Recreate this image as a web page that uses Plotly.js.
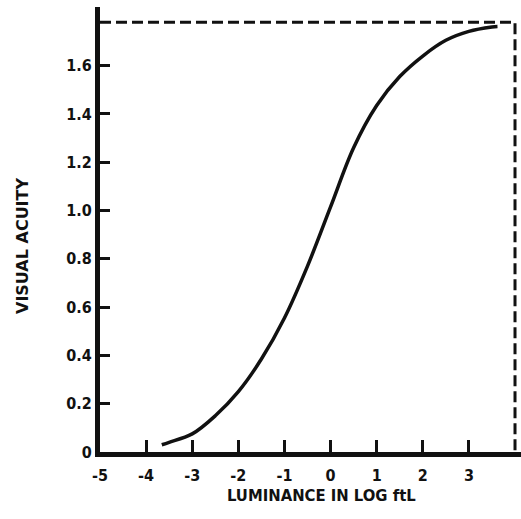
<!DOCTYPE html>
<html>
<head>
<meta charset="utf-8">
<script src="https://cdn.plot.ly/plotly-3.0.1.min.js"></script>
<style>html,body{margin:0;padding:0;background:#fff;}#chart{width:521px;height:519px;}</style>
</head>
<body>
<div id="chart"></div>
<script>
// Luminance (log ftL) and visual acuity
const luminance = [-3.66, -3.5, -3.0, -2.5, -2.0, -1.5, -1.0, -0.5, 0.0, 0.5, 1.0, 1.5, 2.0, 2.5, 3.0, 3.5, 3.62];
const acuity    = [0.03, 0.04, 0.075, 0.15, 0.25, 0.385, 0.555, 0.77, 1.015, 1.26, 1.435, 1.555, 1.64, 1.705, 1.742, 1.76, 1.762];
// Dashed asymptote boundary
const boundX = [-5, 4, 4];
const boundY = [1.78, 1.78, 0];
// Tick values and labels
const xTickVals = [-5, -4, -3, -2, -1, 0, 1, 2, 3];
const xTickText = ['-5', '-4', '-3', '-2', '-1', '0', '1', '2', '3'];
const yTickVals = [0, 0.2, 0.4, 0.6, 0.8, 1.0, 1.2, 1.4, 1.6];
const yTickText = ['0', '0.2', '0.4', '0.6', '0.8', '1.0', '1.2', '1.4', '1.6'];

const fontFam = '"DejaVu Sans Condensed", "Liberation Sans Narrow", "DejaVu Sans", sans-serif';
const wideFam = '"DejaVu Sans", "Liberation Sans", sans-serif';

const traces = [
  {x: boundX, y: boundY, mode: 'lines', line: {color: '#111', width: 3, dash: '11px,5px'}, hoverinfo: 'skip', showlegend: false, cliponaxis: false},
  {x: luminance, y: acuity, mode: 'lines', line: {color: '#111', width: 3.5, shape: 'spline', smoothing: 1}, showlegend: false}
];

const layout = {
  width: 521, height: 519,
  margin: {l: 100, r: 0, t: 7, b: 67},
  paper_bgcolor: '#fff', plot_bgcolor: '#fff',
  showlegend: false,
  xaxis: {
    range: [-5, 4.13], showgrid: false, zeroline: false,
    showline: true, linecolor: '#111', linewidth: 5,
    ticks: 'inside', ticklen: 12, tickwidth: 3, tickcolor: '#111',
    tickvals: xTickVals, ticktext: xTickText, ticklabelstandoff: 5,
    tickfont: {family: fontFam, size: 16, color: '#111', weight: 'bold'}
  },
  yaxis: {
    range: [0, 1.843], showgrid: false, zeroline: false,
    showline: true, linecolor: '#111', linewidth: 5,
    ticks: 'inside', ticklen: 10, tickwidth: 3, tickcolor: '#111',
    tickvals: yTickVals, ticktext: yTickText,
    tickfont: {family: fontFam, size: 16, color: '#111', weight: 'bold'}
  },
  annotations: [
    {text: 'LUMINANCE IN LOG ftL', xref: 'paper', yref: 'paper', x: (321 - 100) / 421, y: -(495 - 452) / 445,
     xanchor: 'center', yanchor: 'middle', showarrow: false,
     font: {family: fontFam, size: 16.5, color: '#111', weight: 'bold'}},
    {text: 'VISUAL ACUITY', xref: 'paper', yref: 'paper', x: -(100 - 22) / 421, y: (452 - 246) / 445,
     xanchor: 'center', yanchor: 'middle', showarrow: false, textangle: -90,
     font: {family: wideFam, size: 16, color: '#111', weight: 'bold'}}
  ]
};

Plotly.newPlot('chart', traces, layout, {staticPlot: true, displayModeBar: false});
</script>
</body>
</html>
